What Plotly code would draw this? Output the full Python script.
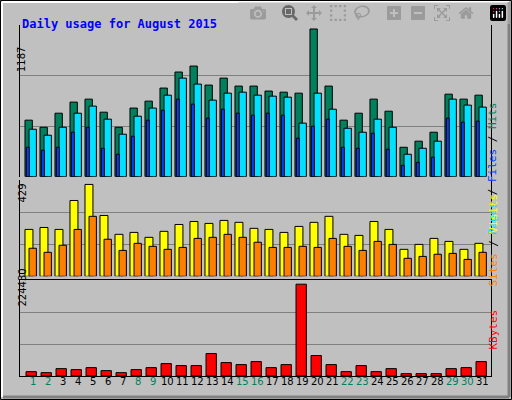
import plotly.graph_objects as go

days = list(range(1, 32))
hits = [454, 397, 510, 599, 623, 518, 397, 551, 607, 712, 841, 889, 736, 792, 728, 728,
        688, 679, 671, 1187, 728, 454, 510, 623, 526, 236, 285, 357, 663, 623, 655]
files = [381, 333, 397, 510, 567, 462, 341, 486, 551, 655, 792, 744, 615, 671, 679, 655,
         647, 639, 430, 671, 542, 389, 357, 462, 397, 180, 228, 285, 623, 575, 559]
pages = [236, 212, 236, 357, 397, 228, 180, 325, 454, 534, 623, 583, 470, 542, 510, 494,
         510, 494, 309, 405, 462, 236, 228, 349, 220, 91, 115, 156, 470, 438, 446]
visits = [219, 228, 219, 354, 429, 284, 196, 205, 182, 210, 242, 256, 247, 261, 252, 224,
          219, 205, 233, 252, 280, 196, 191, 256, 219, 126, 149, 177, 163, 126, 154]
sites = [131, 112, 145, 219, 280, 173, 121, 154, 140, 126, 135, 177, 182, 196, 182, 159,
         135, 135, 140, 135, 177, 140, 121, 163, 149, 84, 93, 103, 107, 79, 112]
kbytes = [10648, 8191, 18020, 15563, 20477, 13105, 8191, 15563, 20477, 30306, 25392, 25392,
          54879, 32764, 27849, 35221, 20477, 27849, 224430, 49964, 27849, 10648, 25392, 10648,
          18020, 5734, 5734, 5734, 18020, 20477, 35221]
weekend = [1, 2, 8, 9, 15, 16, 22, 23, 29, 30]

BG = "#C0C0C0"
line = dict(color="black", width=1)

def px_x(x):
    return (x - 20) / 471

def px_y(y):
    return (376 - y) / 351

fig = go.Figure()
def bar(y, color, off, w, ax):
    fig.add_trace(go.Bar(x=days, y=y, offset=off, width=w, marker_color=color,
                         marker_line=line, xaxis="x", yaxis=ax, hoverinfo="skip"))

bar(hits, "#00805C", 0, 0.49, "y")
bar(files, "#00E0FF", 0.27, 0.49, "y")
bar(pages, "#0040FF", 0.09, 0.2, "y")
bar(visits, "#FFFF00", 0, 0.53, "y2")
bar(sites, "#FF8000", 0.27, 0.49, "y3")
bar(kbytes, "#FF0000", 0.07, 0.69, "y4")

def yax(dom, top):
    return dict(domain=dom, range=[0, top], tickvals=[top / 3, 2 * top / 3], showticklabels=False,
                showgrid=True, gridcolor="#808080", gridwidth=1, zeroline=False,
                showline=True, linecolor="black", mirror=True, ticks="", fixedrange=True)

fig.update_layout(
    width=512, height=400, barmode="overlay", showlegend=False,
    paper_bgcolor=BG, plot_bgcolor=BG,
    margin=dict(l=20, r=21, t=25, b=24),
    xaxis=dict(range=[0.667, 32.07], showticklabels=False, showgrid=False, zeroline=False,
               showline=True, linecolor="black", mirror=True, anchor="y4"),
    yaxis=yax([0.568, 1], 1219),
    yaxis2=yax([0.284, 0.558], 449),
    yaxis3=dict(domain=[0.284, 0.558], range=[0, 449], overlaying="y2", visible=False),
    yaxis4=yax([0, 0.273], 234252),
    font=dict(family="DejaVu Sans", size=10, color="black"),
)

ann = []
for d in days:
    ann.append(dict(x=d + 0.51, y=px_y(389), xref="x", yref="paper", showarrow=False,
                    text=str(d), font=dict(color="#00805C" if d in weekend else "black", size=10)))
mono = "DejaVu Sans Mono"
ann.append(dict(x=px_x(20), y=px_y(15), xref="paper", yref="paper", xanchor="left", showarrow=False,
                text="<b>Daily usage for August 2015</b>", font=dict(family=mono, size=12, color="#0000FF")))
for txt, yc in [("1187", 45), ("429", 193), ("224430", 309)]:
    ann.append(dict(x=px_x(14), y=px_y(yc), xref="paper", yref="paper", showarrow=False,
                    textangle=-90, text=txt, font=dict(size=10)))
right = [
    ('<span style="color:#00E0FF">Pages</span> / <span style="color:#0040FF">Files</span>'
     ' / <span style="color:#00805C">Hits</span>', 100),
    ('<span style="color:#FF8000">Sites</span> / <span style="color:#FFFF00">Visits</span>', 240),
    ('<span style="color:#FF0000">KBytes</span>', 352),
]
for txt, yc in right:
    ann.append(dict(x=px_x(501), y=px_y(yc), xref="paper", yref="paper", showarrow=False,
                    textangle=-90, text=txt, font=dict(family=mono, size=11)))
fig.update_layout(annotations=ann)

# 3D frame around the whole picture
shapes = [
    dict(type="rect", xref="paper", yref="paper", x0=px_x(0.5), x1=px_x(511.5), y0=px_y(399.5), y1=px_y(0.5),
         line=dict(color="black", width=1)),
    dict(type="line", xref="paper", yref="paper", x0=px_x(2), x1=px_x(509), y0=px_y(2), y1=px_y(2),
         line=dict(color="white", width=2)),
    dict(type="line", xref="paper", yref="paper", x0=px_x(2), x1=px_x(2), y0=px_y(2), y1=px_y(397),
         line=dict(color="white", width=2)),
    dict(type="line", xref="paper", yref="paper", x0=px_x(3), x1=px_x(509), y0=px_y(397), y1=px_y(397),
         line=dict(color="#808080", width=3)),
    dict(type="line", xref="paper", yref="paper", x0=px_x(509), x1=px_x(509), y0=px_y(2), y1=px_y(397),
         line=dict(color="#808080", width=3)),
]
fig.update_layout(shapes=shapes)

fig.write_html("out.html", post_script="document.body.style.margin='0';")
